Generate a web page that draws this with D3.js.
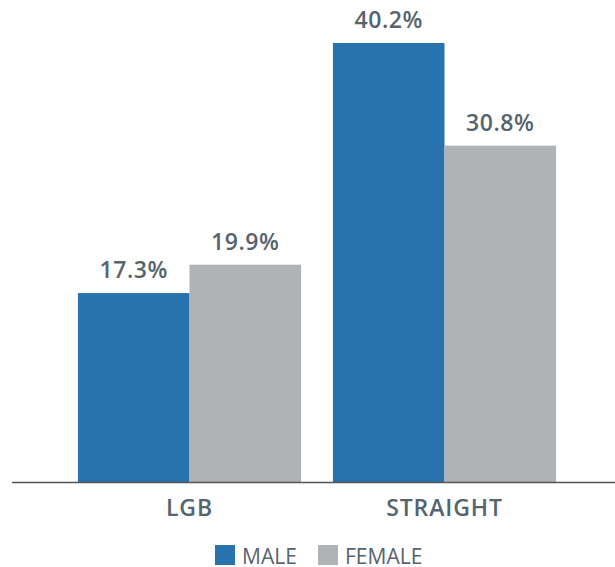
<!DOCTYPE html>
<html>
<head>
<meta charset="utf-8">
<script src="https://cdn.jsdelivr.net/npm/d3@7"></script>
<style>
html,body{margin:0;padding:0;background:#fff;}
svg{display:block;font-family:"Open Sans",sans-serif;}
</style>
</head>
<body>
<svg id="chart" width="615" height="567"></svg>
<script>
const categories = ["LGB", "STRAIGHT"];
const seriesNames = ["MALE", "FEMALE"];
const maleValues = [17.3, 40.2];
const femaleValues = [19.9, 30.8];
const colors = ["#2873ae", "#b0b3b6"];

const svg = d3.select("#chart");
const baseline = 482;
const textColor = "#56646e";

const x0 = d3.scaleBand().domain(categories).range([62, 572]).paddingInner(0.125).paddingOuter(0.0625);
const x1 = d3.scaleBand().domain(seriesNames).range([0, x0.bandwidth()]);
const y = d3.scaleLinear().domain([0, 40.2]).range([baseline, 43]);

const data = categories.map((c, i) => ({
  cat: c,
  vals: [{s: "MALE", v: maleValues[i]}, {s: "FEMALE", v: femaleValues[i]}]
}));

const g = svg.selectAll("g.grp").data(data).enter().append("g")
  .attr("transform", d => `translate(${x0(d.cat)},0)`);

g.selectAll("rect").data(d => d.vals).enter().append("rect")
  .attr("x", d => x1(d.s))
  .attr("y", d => y(d.v))
  .attr("width", x1.bandwidth())
  .attr("height", d => baseline - y(d.v))
  .attr("fill", (d, i) => colors[i]);

g.selectAll("text.val").data(d => d.vals).enter().append("text")
  .attr("class", "val")
  .attr("x", d => x1(d.s) + x1.bandwidth() / 2)
  .attr("y", d => y(d.v) - 15)
  .attr("text-anchor", "middle")
  .attr("fill", textColor)
  .attr("font-size", 23)
  .attr("font-weight", 600)
  .attr("letter-spacing", 0.6)
  .text(d => d.v.toFixed(1) + "%");

// axis
const axis = svg.append("g").attr("transform", `translate(0,${baseline})`)
  .call(d3.axisBottom(x0).tickSize(0).tickPadding(0));
axis.select(".domain").remove();
axis.selectAll("text").attr("fill", textColor).attr("font-size", 23).attr("font-weight", 600)
  .attr("letter-spacing", 0.9)
  .attr("font-family", "Open Sans, sans-serif").attr("dy", null).attr("y", 34);
svg.append("line").attr("x1", 12).attr("x2", 615).attr("y1", baseline + 0.5).attr("y2", baseline + 0.5)
  .attr("stroke", "#555").attr("stroke-width", 1.5);

// legend
const legend = svg.append("g");
const legendItems = [{name: "MALE", x: 215}, {name: "FEMALE", x: 318}];
legendItems.forEach((it, i) => {
  legend.append("rect").attr("x", it.x).attr("y", 545).attr("width", 20).attr("height", 20).attr("fill", colors[i]);
  legend.append("text").attr("x", it.x + 27).attr("y", 564).attr("fill", textColor)
    .attr("font-size", 21).attr("font-weight", 400).text(it.name);
});
</script>
</body>
</html>
